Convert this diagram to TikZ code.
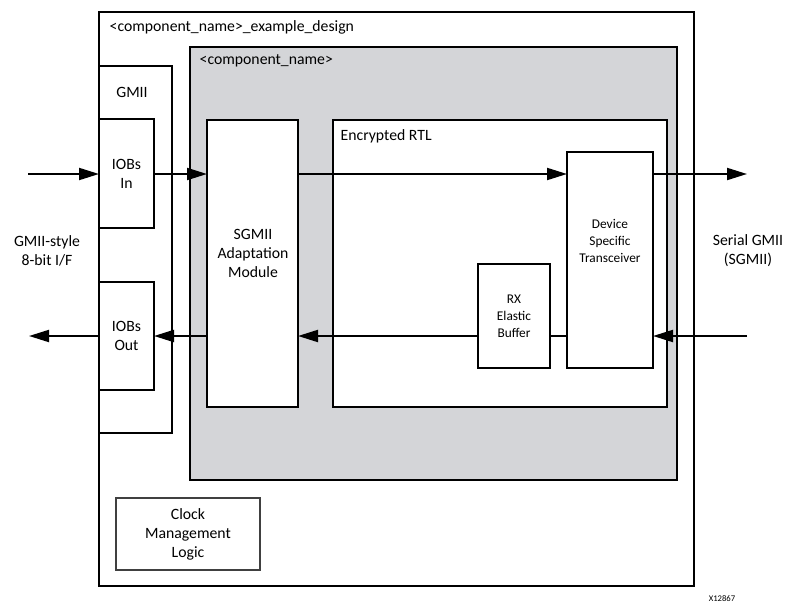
\documentclass[tikz,border=0pt]{standalone}
\usepackage{fontspec}
\setmainfont{Carlito}
\usetikzlibrary{arrows.meta}
\definecolor{shade}{RGB}{212,213,216}
\begin{document}
\begin{tikzpicture}[x=0.75pt,y=0.75pt,yscale=-1,xscale=1,
        blk/.style={draw, line width=1.5pt, fill=white, inner sep=0pt, outer sep=0pt, anchor=north west},
        lbl/.style={font=\fontsize{11.8}{14.25}\selectfont, align=center},
        small/.style={font=\fontsize{10}{12.75}\selectfont, align=center},
        sig/.style={line width=1.5pt, -{Triangle[length=15pt,width=9pt]}}]
        \useasboundingbox (0,0) rectangle (785,603);
        \draw (99,12) node [blk, line width=1.6pt, minimum width=446.25pt, minimum height=430.5pt] (design) {};
        \draw (99,66) node [blk, minimum width=54.75pt, minimum height=275.25pt] (gmii) {};
        \draw (190,47) node [blk, line width=1.6pt, fill=shade, minimum width=365.25pt, minimum height=324.75pt] (core) {};
        \draw (99,119) node [blk, lbl, minimum width=41.25pt, minimum height=81.75pt] (iobsin) {IOBs\\In};
        \draw (99,282) node [blk, lbl, minimum width=41.25pt, minimum height=81pt] (iobsout) {IOBs\\Out};
        \draw (207,120) node [blk, minimum width=68.25pt, minimum height=215.25pt] (sgmii) {};
        \draw (333,120) node [blk, minimum width=250.5pt, minimum height=215.25pt] (rtl) {};
        \draw (567,152) node [blk, minimum width=64.5pt, minimum height=162pt] (xcvr) {};
        \draw (478,264) node [blk, small, minimum width=54pt, minimum height=78pt] (rxbuf) {RX\\Elastic\\Buffer};
        \draw (116,498) node [blk, lbl, line width=0.8pt, draw=black!75, minimum width=108pt, minimum height=54pt] (clk) {Clock\\Management\\Logic};
        \draw (105,27) node [lbl, anchor=west] (designname) {<component\_name>\_example\_design};
        \draw (195,61) node [lbl, anchor=west] (corename) {<component\_name>};
        \draw (132,92) node [lbl] (gmiiname) {GMII};
        \draw (336,136) node [lbl, anchor=west] (rtlname) {Encrypted RTL};
        \draw (253,253) node [lbl] (sgmiiname) {SGMII\\Adaptation\\Module};
        \draw (610,241) node [small] (xcvrname) {Device\\Specific\\Transceiver};
        \draw (47,251) node [lbl] (parname) {GMII-style\\8-bit I/F};
        \draw (748,251) node [lbl] (sername) {Serial GMII\\(SGMII)};
        \draw (722,599) node [font=\fontsize{6.5}{7}\selectfont] (fignum) {X12867};
        \coordinate (parin) at (28,174);
        \coordinate (serout) at (747,174);
        \coordinate (serin) at (747,336);
        \coordinate (parout) at (29,336);
        \draw [sig] (parin) -- (parin -| iobsin.west);
        \draw [sig] (iobsin.east |- parin) -- (sgmii.west |- parin);
        \draw [sig] (sgmii.east |- parin) -- (xcvr.west |- parin);
        \draw [sig] (xcvr.east |- parin) -- (serout);
        \draw [sig] (serin) -- (serin -| xcvr.east);
        \draw [line width=1.5pt] (xcvr.west |- serin) -- (rxbuf.east |- serin);
        \draw [sig] (rxbuf.west |- serin) -- (sgmii.east |- serin);
        \draw [sig] (sgmii.west |- serin) -- (iobsout.east |- serin);
        \draw [sig] (iobsout.west |- serin) -- (parout);
    \end{tikzpicture}
\end{document}
